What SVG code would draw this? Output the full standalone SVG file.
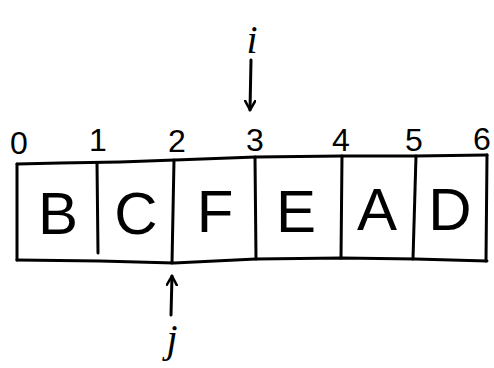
<svg xmlns="http://www.w3.org/2000/svg" width="494" height="368" viewBox="0 0 494 368">
<style>
.ln{fill:none;stroke:#000;stroke-width:3;stroke-linecap:round;stroke-linejoin:round}
.cell{font-family:"Liberation Sans",sans-serif;font-size:60px;fill:#000;text-anchor:middle}
.idx{font-family:"Liberation Sans",sans-serif;font-size:32px;fill:#000;text-anchor:middle}
.ptr{font-family:"Liberation Serif",serif;font-style:italic;font-size:40px;fill:#000;text-anchor:middle}
</style>
<defs>
<marker id="ah" viewBox="0 0 12 12" refX="10" refY="6" markerWidth="12" markerHeight="12" markerUnits="userSpaceOnUse" orient="auto">
<path d="M1,1 L10,6 L1,11" fill="none" stroke="#000" stroke-width="2.5" stroke-linecap="round" stroke-linejoin="round"/>
</marker>
</defs>
<g id="array">
<path class="ln" d="M17,164 L60,163 L120,162 L175,160 L256,157 L342,156 L415,156 L487,155"/>
<path class="ln" d="M17,260 L100,261 L174,263 L256,259 L342,258 L415,259 L487,261"/>
<path class="ln" d="M17,164 L17,260"/>
<path class="ln" d="M487,155 L486,261"/>
<path class="ln" d="M97,163 L98,253"/>
<path class="ln" d="M174,160 L172,263"/>
<path class="ln" d="M255,157 L256,259"/>
<path class="ln" d="M342,156 L341,258"/>
<path class="ln" d="M416,156 L413,259"/>
</g>
<g id="cells">
<text class="cell" x="58" y="234">B</text>
<text class="cell" x="136" y="234">C</text>
<text class="cell" x="215" y="232">F</text>
<text class="cell" x="296" y="232">E</text>
<text class="cell" x="377" y="230">A</text>
<text class="cell" x="450" y="230">D</text>
</g>
<g id="indices">
<text class="idx" x="19" y="154">0</text>
<text class="idx" x="98" y="151">1</text>
<text class="idx" x="177" y="152">2</text>
<text class="idx" x="255" y="151">3</text>
<text class="idx" x="341" y="151">4</text>
<text class="idx" x="414" y="151">5</text>
<text class="idx" x="482" y="150">6</text>
</g>
<g id="pointer-i">
<text class="ptr" x="252" y="53">i</text>
</g>
<g id="pointer-j">
<text class="ptr" x="172" y="352">j</text>
</g>
<g id="connectors">
<path class="ln" d="M251,60 L250,110" marker-end="url(#ah)"/>
<path class="ln" d="M171,315 L172,276" marker-end="url(#ah)"/>
</g>
</svg>
